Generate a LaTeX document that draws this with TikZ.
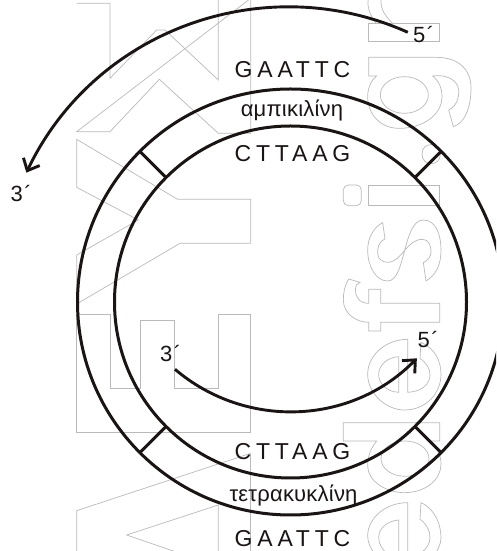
\documentclass[tikz,border=0pt]{standalone}
\usepackage{fontspec}
\setmainfont{Liberation Sans}
\newfontfamily\spaced[LetterSpace=21]{Liberation Sans}
\newfontfamily\tinyspaced[LetterSpace=1]{Liberation Sans}
\usetikzlibrary{arrows.meta,calc}
\definecolor{ink}{HTML}{1A1414}
\tikzset{
  wm/.style={draw=black!27,line width=0.7pt},
  ring/.style={draw=ink,line width=3pt},
  tick/.style={draw=ink,line width=3pt},
  strand/.style={draw=ink,line width=2.9pt,-{Straight Barb[length=10pt,width=18pt,line width=2.9pt]}},
  seq/.style={anchor=base,inner sep=0pt,font=\fontsize{23}{23}\spaced,text=ink},
  gene/.style={anchor=base,inner sep=0pt,font=\fontsize{22}{22}\tinyspaced,text=ink},
  endl/.style={anchor=base west,inner sep=0pt,font=\fontsize{22}{22}\selectfont,text=ink},
  crop/.style={x=0.33333pt,y=-0.33333pt}
}
\begin{document}
\begin{tikzpicture}[x=1pt,y=1pt]
\useasboundingbox (0,0) rectangle (496,551);
\clip (0,0) rectangle (496,551);
\fill[white] (0,0) rectangle (496,551);
% watermark, left column
\begin{scope}[shift={(0pt,551pt)},crop]
\draw[wm] (230,10)--(330,10)--(330,235)--(470,90)--(495,90)--(655,240)--(655,-5);
\draw[wm] (752,-5)--(752,400)--(655,400)--(478,238)--(330,395)--(230,395)--cycle;
\draw[wm] (230,418)--(533,598)--(752,598)--(752,730)--(540,730)--(230,912)--(230,765)--(415,660)--(230,562)--cycle;
\draw[wm] (230,943)--(330,943)--(330,1165)--(422,1165)--(422,960)--(522,960)--(522,1165)--(655,1165)--(655,943)--(752,943)--(752,1297)--(230,1297)--cycle;
\draw[wm] (752,1360)--(230,1532)--(230,1660);
\draw[wm] (752,1360)--(752,1660);
\draw[wm] (655,1660)--(655,1515)--(380,1605)--(540,1660);
\end{scope}
% watermark, right column
\begin{scope}[shift={(336pt,551pt)},crop]
\draw[wm] (97,-5) .. controls (92,25) and (105,50) .. (120,70);
\draw[wm] (135,-5) .. controls (132,30) and (150,50) .. (170,70);
\draw[wm] (98,70)--(311,70)--(311,125)--(98,125)--cycle;
\draw[wm] (98,172)--(300,172) .. controls (370,172) and (405,210) .. (405,265) .. controls (405,325) and (385,370) .. (352,380) -- (338,330) .. controls (360,320) and (370,295) .. (368,270) .. controls (365,240) and (330,222) .. (290,228) .. controls (310,245) and (318,265) .. (318,290) .. controls (318,345) and (260,385) .. (190,385) .. controls (130,385) and (95,340) .. (95,290) .. controls (95,265) and (105,240) .. (122,228) -- (98,228) -- cycle;
\draw[wm] (205,285) ellipse [x radius=72,y radius=55];
\end{scope}
\begin{scope}[shift={(336pt,411pt)},crop]
\draw[wm] (258,42) .. controls (258,22) and (272,14) .. (285,14) .. controls (300,14) and (313,22) .. (313,42) .. controls (313,62) and (300,71) .. (285,71) .. controls (272,71) and (258,62) .. (258,42) -- cycle;
\draw[wm,rounded corners=5pt] (22,135) rectangle (76,197);
\draw[wm] (98,135) rectangle (311,195);
\draw[wm] (140,248) -- (147,297) .. controls (125,308) and (125,325) .. (125,340) .. controls (125,358) and (140,367) .. (155,367) .. controls (200,365) and (210,298) .. (260,298) .. controls (280,298) and (285,320) .. (285,335) .. controls (285,350) and (275,362) .. (262,368) -- (270,423) .. controls (300,405) and (315,375) .. (315,330) .. controls (315,285) and (300,240) .. (262,240) .. controls (200,240) and (210,423) .. (155,423) .. controls (120,423) and (95,380) .. (95,330) .. controls (95,295) and (112,262) .. (140,248) -- cycle;
\end{scope}
\begin{scope}[shift={(336pt,271pt)},crop]
\draw[wm] (38,-3) .. controls (25,20) and (22,40) .. (22,60) .. controls (22,100) and (60,127) .. (98,127) -- (98,153) -- (134,153) -- (134,127) -- (311,127) -- (311,70) -- (134,70) -- (134,28) -- (98,28) -- (98,70) .. controls (70,70) and (58,50) .. (58,30) .. controls (58,15) and (65,10) .. (72,7) -- cycle;
\draw[wm] (215,178) .. controls (150,178) and (95,225) .. (95,283) .. controls (95,340) and (150,390) .. (205,390) .. controls (270,390) and (315,340) .. (315,283) .. controls (315,240) and (295,205) .. (255,187) -- (252,235) .. controls (272,250) and (282,265) .. (282,285) .. controls (282,310) and (260,335) .. (215,337) -- cycle;
\draw[wm] (188,230) -- (188,337) .. controls (150,335) and (128,310) .. (128,283) .. controls (128,255) and (155,232) .. (188,230) -- cycle;
\end{scope}
\begin{scope}[shift={(336pt,140pt)},crop]
\draw[wm] (22,35)--(311,35)--(311,90)--(285,90) .. controls (305,110) and (315,135) .. (315,160) .. controls (315,205) and (270,245) .. (205,245) .. controls (150,245) and (95,210) .. (95,165) .. controls (95,135) and (105,110) .. (122,90) -- (22,90) -- cycle;
\draw[wm] (207,143) ellipse [x radius=72,y radius=53];
\draw[wm] (215,425) -- (215,275) .. controls (150,275) and (95,320) .. (95,375) .. controls (95,395) and (105,415) .. (115,425);
\draw[wm] (188,425) -- (188,327) .. controls (155,330) and (128,350) .. (128,380) .. controls (128,400) and (140,415) .. (150,425);
\draw[wm] (255,425) .. controls (270,415) and (282,400) .. (282,380) .. controls (282,365) and (275,340) .. (252,325) -- (255,275) .. controls (300,295) and (315,345) .. (315,380) .. controls (315,400) and (305,415) .. (300,425);
\end{scope}
% plasmid
\coordinate (c) at (290.5,249);
\draw[ring] (c) circle [radius=213];
\draw[ring] (c) circle [radius=176];
\foreach \a/\n in {45/ne,135/nw,225/sw,315/se}{
  \coordinate (o\n) at ($(c)+(\a:213)$);
  \coordinate (i\n) at ($(c)+(\a:176)$);
  \draw[tick] (o\n) -- (i\n);
}
% labels
\node[seq] (gaattcTop) at (292.5,473.3) {GAATTC};
\node[gene] (amp) at (292,434.3) {αμπικιλίνη};
\node[seq] (cttaagTop) at (292.5,389.3) {CTTAAG};
\node[seq] (cttaagBot) at (292.5,91.7) {CTTAAG};
\node[gene] (tet) at (293.5,49.3) {τετρακυκλίνη};
\node[seq] (gaattcBot) at (292.5,5) {GAATTC};
\node[endl] (fiveOut) at (413,508) {5\kern1.5pt´};
\node[endl] (threeOut) at (10.5,349) {3\kern1.5pt´};
\node[endl] (threeIn) at (160,189) {3\kern1.5pt´};
\node[endl] (fiveIn) at (417.5,203) {5\kern1.5pt´};
% strands
\coordinate (sOut) at (407.8,518.7);
\draw[strand] (sOut) arc [start angle=65.9,end angle=154.5,radius=291];
\coordinate (sIn) at (175,181.7);
\draw[strand] (sIn) arc [start angle=229.6,end angle=315.6,radius=177.5];
\end{tikzpicture}
\end{document}
